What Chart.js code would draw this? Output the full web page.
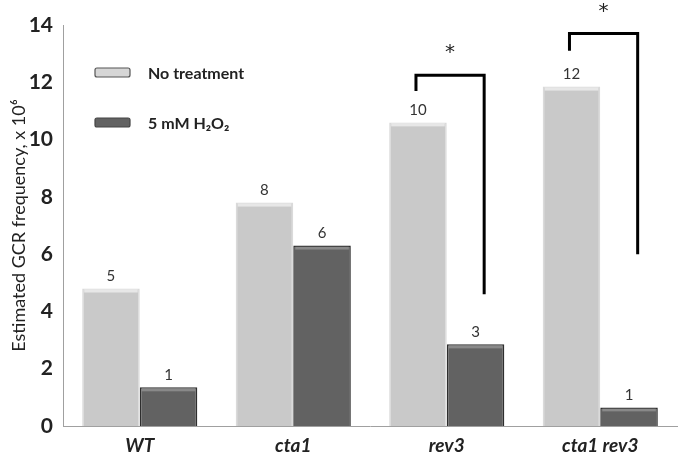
<!DOCTYPE html>
<html>
<head>
<meta charset="utf-8">
<script src="https://cdn.jsdelivr.net/npm/chart.js@4.4.0/dist/chart.umd.min.js"></script>
<style>
  html, body { margin: 0; padding: 0; background: #fff; }
  #wrap { width: 683px; height: 454px; }
</style>
</head>
<body>
<div id="wrap"><canvas id="gcrChart"></canvas></div>
<script>
// data
const categories = ['WT', 'cta1', 'rev3', 'cta1 rev3'];
const noTreatment = [4.8, 7.8, 10.6, 11.85];
const peroxide = [1.35, 6.3, 2.85, 0.65];
const noTreatmentLabels = ['5', '8', '10', '12'];
const peroxideLabels = ['1', '6', '3', '1'];
const yTicks = [0, 2, 4, 6, 8, 10, 12, 14];
// significance brackets: category index, left leg bottom, bar top, right leg bottom
const bracketCategory = [2, 3];
const bracketLeft = [11.7, 13.1];
const bracketTop = [12.25, 13.7];
const bracketRight = [4.6, 6.0];

const seriesNames = ['No treatment', '5 mM H\u2082O\u2082'];
const lightColor = '#c9c9c9';
const darkColor = '#626262';

// value labels, brackets, stars and the legend
const annotations = {
    id: 'annotations',
    afterDatasetsDraw(chart) {
        const ctx = chart.ctx;
        const y = chart.scales.y;
        const metaA = chart.getDatasetMeta(0);
        const metaB = chart.getDatasetMeta(1);

        ctx.save();
        // soft bevel highlight along the top of each bar
        [metaA, metaB].forEach((meta, d) => {
            meta.data.forEach(bar => {
                const left = bar.x - bar.width / 2;
                ctx.fillStyle = d === 0 ? 'rgba(255,255,255,0.55)' : 'rgba(255,255,255,0.25)';
                ctx.fillRect(left + 2, bar.y + 1, bar.width - 4, 3);
            });
        });

        ctx.fillStyle = '#333';
        ctx.font = '15px Lato';
        ctx.textAlign = 'center';
        ctx.textBaseline = 'bottom';
        metaA.data.forEach((bar, i) => ctx.fillText(noTreatmentLabels[i], bar.x, bar.y - 5));
        metaB.data.forEach((bar, i) => ctx.fillText(peroxideLabels[i], bar.x, bar.y - 5));

        // brackets
        ctx.strokeStyle = '#000';
        ctx.lineWidth = 3;
        ctx.lineCap = 'butt';
        bracketCategory.forEach((c, i) => {
            const a = metaA.data[c];
            const b = metaB.data[c];
            const x1 = a.x - 2;
            const x2 = b.x + b.width * 0.15;
            ctx.beginPath();
            ctx.moveTo(x1, y.getPixelForValue(bracketLeft[i]));
            ctx.lineTo(x1, y.getPixelForValue(bracketTop[i]));
            ctx.lineTo(x2, y.getPixelForValue(bracketTop[i]));
            ctx.lineTo(x2, y.getPixelForValue(bracketRight[i]));
            ctx.stroke();
            ctx.font = '20px "DejaVu Sans"';
            ctx.textBaseline = 'middle';
            ctx.fillStyle = '#222';
            ctx.fillText('*', (x1 + x2) / 2, y.getPixelForValue(bracketTop[i]) - 22);
        });

        // legend
        const lx = 95, boxW = 35, boxH = 9;
        const rows = [{ top: 68, fill: '#d6d6d6', border: '#555' }, { top: 118, fill: darkColor, border: '#444' }];
        rows.forEach((r, i) => {
            ctx.fillStyle = r.fill;
            ctx.strokeStyle = r.border;
            ctx.lineWidth = 1.2;
            ctx.beginPath();
            ctx.roundRect(lx, r.top, boxW, boxH, 2);
            ctx.fill();
            ctx.stroke();
            ctx.fillStyle = '#222';
            ctx.font = 'bold 16px Lato';
            ctx.textAlign = 'left';
            ctx.textBaseline = 'middle';
            ctx.fillText(seriesNames[i], 148, r.top + boxH / 2 + 1);
        });
        ctx.restore();
    }
};

new Chart(document.getElementById('gcrChart'), {
    type: 'bar',
    data: {
        labels: categories,
        datasets: [
            {
                label: seriesNames[0],
                data: noTreatment,
                backgroundColor: lightColor,
                borderColor: '#dadada',
                borderWidth: 1.5
            },
            {
                label: seriesNames[1],
                data: peroxide,
                backgroundColor: darkColor,
                borderColor: '#2e2e2e',
                borderWidth: 1.5
            }
        ]
    },
    options: {
        responsive: true,
        maintainAspectRatio: false,
        animation: false,
        layout: { padding: { left: 4, right: 6, top: 25, bottom: 0 } },
        datasets: {
            bar: { categoryPercentage: 0.75, barPercentage: 1.0 }
        },
        plugins: {
            legend: { display: false },
            tooltip: { enabled: false }
        },
        scales: {
            x: {
                grid: { display: false },
                border: { display: true, color: '#a0a0a0', width: 1 },
                ticks: {
                    color: '#222',
                    padding: 0,
                    font: { family: 'Lato', size: 19, weight: 'bold', style: 'italic' }
                },
                afterFit(scale) { scale.height = 28; }
            },
            y: {
                min: 0,
                max: 14,
                afterBuildTicks(scale) { scale.ticks = yTicks.map(v => ({ value: v })); },
                grid: { display: false, drawTicks: false },
                border: { display: true, color: '#a0a0a0', width: 1 },
                ticks: {
                    color: '#222',
                    padding: 10,
                    font: { family: 'Lato', size: 21, weight: 'bold' }
                },
                title: {
                    display: true,
                    text: 'Estimated GCR frequency, x 10\u2076',
                    color: '#222',
                    font: { family: 'Lato', size: 18 }
                },
                afterFit(scale) { scale.width = 59; }
            }
        }
    },
    plugins: [annotations]
});
</script>
</body>
</html>
